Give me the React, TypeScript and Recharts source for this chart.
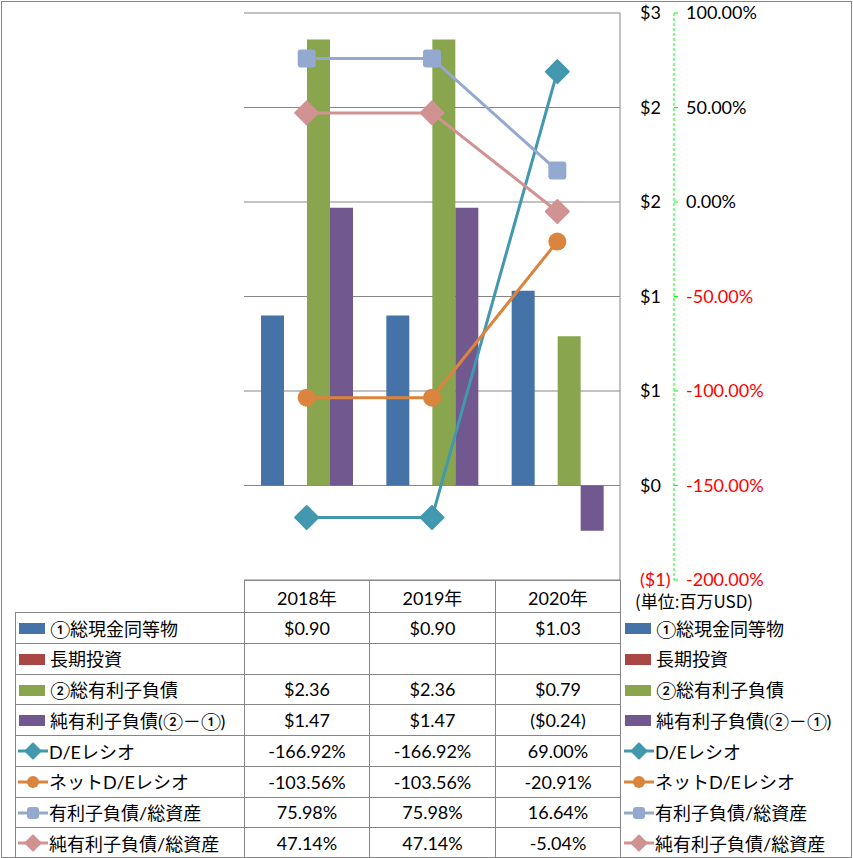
import React from "react";
import { ComposedChart, Bar, Line, XAxis, YAxis, CartesianGrid } from "recharts";

const years = ["2018年", "2019年", "2020年"];
const cashEq = [0.9, 0.9, 1.03];
const longTermInv: (number | null)[] = [null, null, null];
const totalDebt = [2.36, 2.36, 0.79];
const netDebt = [1.47, 1.47, -0.24];
const deRatio = [-1.6692, -1.6692, 0.69];
const netDeRatio = [-1.0356, -1.0356, -0.2091];
const debtToAssets = [0.7598, 0.7598, 0.1664];
const netDebtToAssets = [0.4714, 0.4714, -0.0504];

const usdTicks = [-0.5, 0, 0.5, 1, 1.5, 2, 2.5];
const pctTicks = [-2, -1.5, -1, -0.5, 0, 0.5, 1];
const unitLabel = "(単位:百万USD)";

type Marker = "bar" | "diamond" | "circle" | "square";

const series: Array<{ key: string; name: string; color: string; marker: Marker; values: (number | null)[] }> = [
  { key: "cash", name: "①総現金同等物", color: "#4572A7", marker: "bar", values: cashEq },
  { key: "lti", name: "長期投資", color: "#AA4643", marker: "bar", values: longTermInv },
  { key: "debt", name: "②総有利子負債", color: "#89A54E", marker: "bar", values: totalDebt },
  { key: "net", name: "純有利子負債(②－①)", color: "#71588F", marker: "bar", values: netDebt },
  { key: "de", name: "D/Eレシオ", color: "#4198AF", marker: "diamond", values: deRatio },
  { key: "nde", name: "ネットD/Eレシオ", color: "#DB843D", marker: "circle", values: netDeRatio },
  { key: "dta", name: "有利子負債/総資産", color: "#93A9CF", marker: "square", values: debtToAssets },
  { key: "ndta", name: "純有利子負債/総資産", color: "#D19392", marker: "diamond", values: netDebtToAssets },
];

const data = years.map((year, i) => {
  const row: Record<string, number | string | null> = { year };
  series.forEach((s) => {
    row[s.key] = s.values[i];
  });
  return row;
});

const fmtUsdTick = (v: number) => (v < 0 ? `($${Math.round(-v)})` : `$${Math.round(v)}`);
const fmtPctTick = (v: number) => `${(v * 100).toFixed(2)}%`;
const fmtMoney = (v: number | null) => (v == null ? "" : v < 0 ? `($${(-v).toFixed(2)})` : `$${v.toFixed(2)}`);
const fmtPct = (v: number | null) => (v == null ? "" : `${(v * 100).toFixed(2)}%`);

const FONT = "Lato, 'Noto Sans CJK JP', sans-serif";
const GRID = "#868686";

function MarkerShape({ kind, cx, cy, color, size }: { kind: Marker; cx: number; cy: number; color: string; size: number }) {
  if (kind === "diamond") {
    const r = size / 2;
    return (
      <polygon
        points={`${cx},${cy - r} ${cx + r},${cy} ${cx},${cy + r} ${cx - r},${cy}`}
        fill={color}
        stroke={color}
        strokeWidth={2}
        strokeLinejoin="round"
      />
    );
  }
  if (kind === "circle") {
    return <circle cx={cx} cy={cy} r={size / 2} fill={color} />;
  }
  const s = size;
  return <rect x={cx - s / 2} y={cy - s / 2} width={s} height={s} rx={3} fill={color} />;
}

function LegendKey({ kind, color }: { kind: Marker; color: string }) {
  if (kind === "bar") {
    return (
      <svg width={31} height={14} style={{ verticalAlign: "middle", marginRight: 2 }}>
        <rect x={2} y={2} width={26} height={11} fill={color} />
      </svg>
    );
  }
  const size = kind === "diamond" ? 15 : 12;
  return (
    <svg width={32} height={18} style={{ verticalAlign: "middle", marginRight: 0 }}>
      <line x1={1} y1={9} x2={31} y2={9} stroke={color} strokeWidth={3} />
      <MarkerShape kind={kind} cx={16} cy={9} color={color} size={size} />
    </svg>
  );
}

function UsdTick(props: any) {
  const { x, y, payload } = props;
  const v = payload.value as number;
  return (
    <text x={x} y={y} dy="0.35em" textAnchor="start" fontFamily={FONT} fontSize={18} fill={v < 0 ? "#FF0000" : "#000"}>
      {fmtUsdTick(v)}
    </text>
  );
}

function PctTick(props: any) {
  const { x, y, payload } = props;
  const v = payload.value as number;
  return (
    <text x={x} y={y} dy="0.35em" textAnchor="start" fontFamily={FONT} fontSize={18} fill={v < 0 ? "#FF0000" : "#000"}>
      {fmtPctTick(v)}
    </text>
  );
}

const cellBorder = `1px solid ${GRID}`;

export default function App() {
  const bars = series.filter((s) => s.marker === "bar");
  const lines = series.filter((s) => s.marker !== "bar");

  return (
    <div style={{ position: "absolute", left: 0, top: 0, width: 853, height: 858, background: "#fff", fontFamily: FONT }}>
      <div
        style={{
          position: "absolute",
          left: 1,
          top: 1,
          width: 851,
          height: 857,
          border: `1px solid ${GRID}`,
          boxSizing: "border-box",
        }}
      />
      <div style={{ position: "absolute", left: 0, top: 0 }}>
        <ComposedChart
          width={853}
          height={858}
          data={data}
          margin={{ top: 13, left: 244, right: 0, bottom: 278 }}
          barGap={0}
          barSize={23}
        >
          <CartesianGrid yAxisId="p" vertical={false} stroke={GRID} ticks={usdTicks} />
          <XAxis dataKey="year" hide />
          <YAxis
            yAxisId="p"
            orientation="right"
            width={54}
            domain={[-0.5, 2.5]}
            ticks={usdTicks}
            interval={0}
            axisLine={{ stroke: GRID }}
            tickLine={false}
            tickMargin={14}
            tick={<UsdTick />}
          />
          <YAxis
            yAxisId="s"
            orientation="right"
            width={179}
            domain={[-2, 1]}
            ticks={pctTicks}
            interval={0}
            axisLine={{ stroke: "#00FF00", strokeDasharray: "3 2" }}
            tickLine={{ stroke: "#00FF00" }}
            tickSize={4}
            tickMargin={8}
            tick={<PctTick />}
          />
          {bars.map((s) => (
            <Bar key={s.key} yAxisId="p" dataKey={s.key} name={s.name} fill={s.color} isAnimationActive={false} />
          ))}
          {lines.map((s) => (
            <Line
              key={s.key}
              yAxisId="s"
              dataKey={s.key}
              name={s.name}
              stroke={s.color}
              strokeWidth={3}
              isAnimationActive={false}
              dot={(p: any) => (
                <MarkerShape
                  key={`${s.key}-${p.index}`}
                  kind={s.marker}
                  cx={p.cx}
                  cy={p.cy}
                  color={s.color}
                  size={s.marker === "diamond" ? 23 : 18}
                />
              )}
              activeDot={false}
            />
          ))}
        </ComposedChart>
      </div>

      <table
        style={{
          position: "absolute",
          left: 15,
          top: 580,
          borderCollapse: "collapse",
          tableLayout: "fixed",
          fontSize: 18,
          color: "#000",
        }}
      >
        <colgroup>
          <col style={{ width: 229 }} />
          <col style={{ width: 125 }} />
          <col style={{ width: 126 }} />
          <col style={{ width: 125 }} />
          <col style={{ width: 232 }} />
        </colgroup>
        <tbody>
          <tr style={{ height: 32 }}>
            <td style={{ border: "none", padding: 0 }} />
            {years.map((y) => (
              <td key={y} style={{ border: cellBorder, textAlign: "center", padding: 0 }}>
                {y}
              </td>
            ))}
            <td
              style={{
                border: "none",
                borderLeft: cellBorder,
                padding: "0 0 4px 14px",
                verticalAlign: "bottom",
                fontFamily: "'Noto Sans CJK JP', sans-serif",
                fontSize: 17,
                lineHeight: "16px",
                whiteSpace: "nowrap",
              }}
            >
              {unitLabel}
            </td>
          </tr>
          {series.map((s) => (
            <tr key={s.key} style={{ height: 30.75 }}>
              <td style={{ border: cellBorder, padding: "0 0 0 1px", whiteSpace: "nowrap", overflow: "hidden" }}>
                <LegendKey kind={s.marker} color={s.color} />
                <span style={{ verticalAlign: "middle" }}>{s.name}</span>
              </td>
              {s.values.map((v, i) => (
                <td key={i} style={{ border: cellBorder, textAlign: "center", padding: 0 }}>
                  {s.marker === "bar" ? fmtMoney(v) : fmtPct(v)}
                </td>
              ))}
              <td
                style={{
                  border: "none",
                  borderLeft: cellBorder,
                  padding: "0 0 0 2px",
                  whiteSpace: "nowrap",
                  overflow: "hidden",
                }}
              >
                <LegendKey kind={s.marker} color={s.color} />
                <span style={{ verticalAlign: "middle" }}>{s.name}</span>
              </td>
            </tr>
          ))}
        </tbody>
      </table>
    </div>
  );
}
